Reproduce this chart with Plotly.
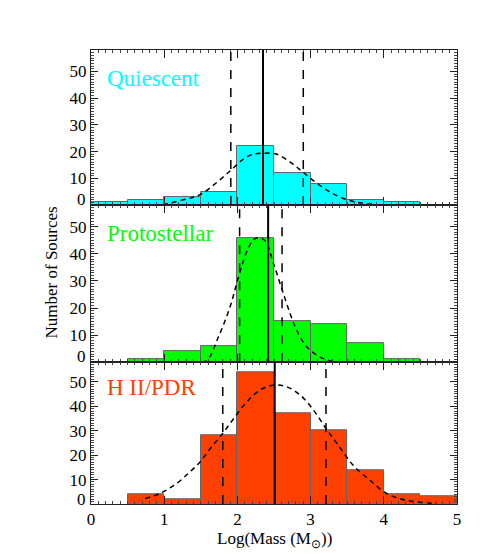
import plotly.graph_objects as go
from plotly.subplots import make_subplots

# ---- data ----
bin_centers = [0.25, 0.75, 1.25, 1.75, 2.25, 2.75, 3.25, 3.75, 4.25, 4.75]
quiescent_counts = [1, 2, 3, 5, 22, 12, 8, 2, 1, None]
protostellar_counts = [None, 1, 4, 6, 46, 15, 14, 7, 1, None]
hii_counts = [None, 4, 2, 28, 54, 37, 30, 14, 4, 3]

# fitted curves
q_fit_x = [0.0, 0.5, 1.0, 1.13, 1.35, 1.49, 1.72, 1.91, 2.08, 2.2, 2.35, 2.54, 2.76, 2.90, 3.13, 3.40, 3.63, 3.86]
q_fit_y = [0.1, 0.1, 0.3, 1.1, 2.6, 3.9, 8.5, 13.0, 17.2, 18.9, 19.4, 19.0, 15.3, 12.2, 7.3, 3.0, 1.1, 0.4]
p_fit_x = [0.78, 1.1, 1.3, 1.45, 1.58, 1.74, 1.90, 2.01, 2.13, 2.22, 2.29, 2.38, 2.49, 2.61, 2.72, 2.81, 2.95, 3.13, 3.29, 3.6, 3.9, 4.1]
p_fit_y = [0.0, 0.0, 0.0, 0.1, 0.6, 9.3, 20.5, 31.0, 41.0, 45.2, 46.0, 44.8, 36.7, 26.8, 18.0, 11.8, 5.6, 1.9, 0.4, 0.0, 0.0, 0.0]
h_fit_x = [0.74, 0.94, 1.17, 1.35, 1.49, 1.63, 1.80, 1.95, 2.13, 2.31, 2.49, 2.67, 2.86, 3.04, 3.21, 3.36, 3.58, 3.81, 4.04, 4.31, 4.72]
h_fit_y = [2.2, 4.3, 8.4, 13.1, 17.2, 22.7, 28.9, 35.0, 41.8, 46.6, 48.6, 48.0, 44.5, 38.4, 30.9, 24.8, 15.9, 9.7, 4.3, 1.5, 0.2]

# median (solid) and lower/upper (dashed) markers
q_lines = [1.91, 2.35, 2.90]
p_lines = [2.03, 2.42, 2.61]
h_lines = [1.80, 2.51, 3.21]

panel_names = ["Quiescent", "Protostellar", "H II/PDR"]
panel_colors = ["#00FFFF", "#00FF00", "#FF4000"]
y_ticks = [10, 20, 30, 40, 50]
x_ticks = [0, 1, 2, 3, 4, 5]

FONT = "Liberation Serif"

fig = make_subplots(rows=3, cols=1, shared_xaxes=True, vertical_spacing=0,
                    row_heights=[155, 157, 141.7])

counts = [quiescent_counts, protostellar_counts, hii_counts]
fits = [(q_fit_x, q_fit_y), (p_fit_x, p_fit_y), (h_fit_x, h_fit_y)]
lines = [q_lines, p_lines, h_lines]

for i in range(3):
    r = i + 1
    fig.add_trace(go.Bar(x=bin_centers, y=counts[i], width=0.5,
                         marker=dict(color=panel_colors[i], line=dict(color="#666666", width=1)),
                         showlegend=False), row=r, col=1)
    fig.add_trace(go.Scatter(x=fits[i][0], y=fits[i][1], mode="lines",
                             line=dict(color="black", width=1.5, dash="5px,4px", shape="spline"),
                             showlegend=False), row=r, col=1)
    lo, med, hi = lines[i]
    yref = "y domain" if r == 1 else f"y{r} domain"
    xref = "x" if r == 1 else f"x{r}"
    yd = f"y{'' if r == 1 else r}"
    for xv, dash, w in [(lo, "dash", 1.5), (hi, "dash", 1.5), (med, "solid", 2)]:
        fig.add_shape(type="line", x0=xv, x1=xv, y0=0, y1=1, xref=xref, yref=yref,
                      line=dict(color="black", width=w, dash=dash))
    fig.add_annotation(text=panel_names[i], x=0.19, y=47.5, xref=xref, yref=yd,
                       xanchor="left", yanchor="middle", showarrow=False,
                       font=dict(family=FONT, size=23, color=panel_colors[i]))
    fig.add_annotation(text="0", x=0, y=2, xref="paper", yref=yd,
                       xanchor="right", yanchor="middle", xshift=-3, showarrow=False,
                       font=dict(family=FONT, size=17, color="black"))

axis_common = dict(showgrid=False, zeroline=False, showline=True, linecolor="#222222",
                   linewidth=1, mirror="ticks", ticks="inside", tickcolor="#222222")

for r in range(1, 4):
    fig.update_yaxes(range=[0, 58], tickvals=y_ticks, ticklen=7, tickwidth=1,
                     minor=dict(dtick=1, ticks="inside", ticklen=3, tickcolor="#444444"),
                     tickfont=dict(family=FONT, size=17, color="black"),
                     row=r, col=1, **axis_common)
    fig.update_xaxes(range=[0, 5], tickvals=x_ticks, ticklen=8, tickwidth=1,
                     minor=dict(dtick=0.1, ticks="inside", ticklen=3, tickcolor="#444444"),
                     tickfont=dict(family=FONT, size=17, color="black"),
                     showticklabels=(r == 3), row=r, col=1, **axis_common)

fig.add_annotation(text="Number of Sources", x=-0.108, y=0.511, xref="paper", yref="paper",
                   textangle=-90, showarrow=False, xanchor="center", yanchor="middle",
                   font=dict(family=FONT, size=17, color="black"))
fig.add_annotation(text="Log(Mass (M<sub>⊙</sub>))", x=0.5, y=-0.08, xref="paper", yref="paper",
                   showarrow=False, xanchor="center", yanchor="middle",
                   font=dict(family=FONT, size=17, color="black"))

# page body has an 8px default margin; compensate so the plot lands where the reference has it
fig.update_layout(width=485, height=554, plot_bgcolor="white", paper_bgcolor="white",
                  font=dict(family=FONT, size=17, color="black"),
                  margin=dict(l=82.7, r=36, t=42, b=58.3), bargap=0)

fig.write_html("out.html")
